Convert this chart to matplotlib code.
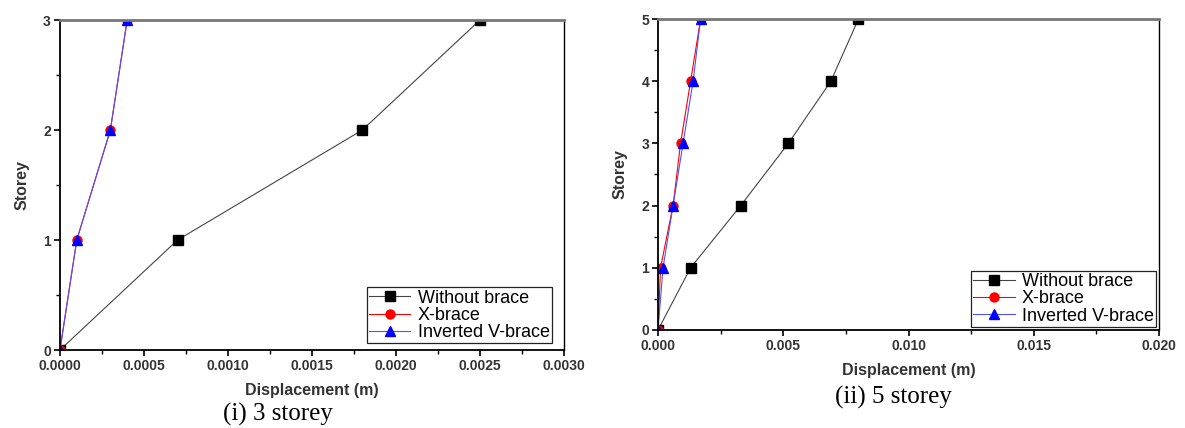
import matplotlib
matplotlib.use("Agg")
import matplotlib.pyplot as plt
from matplotlib.ticker import MultipleLocator, FormatStrFormatter

plt.rcParams['font.family'] = ['Liberation Sans', 'DejaVu Sans']

# 3 storey
storeys_3 = [0, 1, 2, 3]
without_3 = [0.0, 0.0007, 0.0018, 0.0025]
xbrace_3 = [0.0, 0.0001, 0.0003, 0.0004]
invv_3 = [0.0, 0.0001, 0.0003, 0.0004]

# 5 storey
storeys_5 = [0, 1, 2, 3, 4, 5]
without_5 = [0.0, 0.0013, 0.0033, 0.0052, 0.0069, 0.0080]
xbrace_5 = [0.0, 0.0001, 0.0006, 0.0009, 0.0013, 0.0017]
invv_5 = [0.0, 0.0002, 0.0006, 0.0010, 0.0014, 0.0017]

labels = ['Without brace', 'X-brace', 'Inverted V-brace']

fig = plt.figure(figsize=(11.85, 4.28), dpi=100)
ax1 = fig.add_axes([0.0506, 0.1822, 0.4253, 0.771])
ax2 = fig.add_axes([0.5553, 0.229, 0.4228, 0.7266])


def draw(ax, y, series, xmax, xstep, xfmt, leg_anchor):
    ax.plot(series[0], y, color='#444444', lw=0.8, marker='s', ms=6.5, mfc='black', mec='black',
            label=labels[0])
    ax.plot(series[1], y, color='red', lw=0.8, marker='o', ms=6.5, label=labels[1])
    ax.plot(series[2], y, color='#5050ff', lw=0.8, marker='^', ms=7.5, mfc='blue', mec='blue',
            label=labels[2])
    ax.set_xlim(0, xmax)
    ax.set_ylim(0, y[-1])
    ax.xaxis.set_major_locator(MultipleLocator(xstep))
    ax.xaxis.set_minor_locator(MultipleLocator(xstep / 2))
    ax.xaxis.set_major_formatter(FormatStrFormatter(xfmt))
    ax.yaxis.set_major_locator(MultipleLocator(1))
    ax.yaxis.set_minor_locator(MultipleLocator(0.5))
    ax.tick_params(which='major', direction='out', length=4.5, width=1.2, labelsize=10,
                   labelcolor='#333333', pad=2)
    ax.tick_params(which='minor', direction='out', length=3, width=1)
    for lab in ax.get_xticklabels() + ax.get_yticklabels():
        lab.set_fontweight('bold')
    for s in ax.spines.values():
        s.set_linewidth(1.3)
    ax.spines['top'].set_color('#777777')
    ax.spines['top'].set_linewidth(2)
    ax.spines['right'].set_linewidth(1)
    ax.set_xlabel('Displacement (m)', fontsize=11.5, fontweight='bold', color='#333333', labelpad=7)
    ax.set_ylabel('Storey', fontsize=11.5, fontweight='bold', color='#333333', labelpad=10)
    leg = ax.legend(loc='lower right', bbox_to_anchor=leg_anchor, fontsize=13, frameon=True,
                    fancybox=False, borderaxespad=0, handlelength=2.3, borderpad=0.12,
                    labelspacing=0.02, handletextpad=0.4, framealpha=1)
    leg.get_frame().set_edgecolor('#222222')
    leg.get_frame().set_linewidth(0.9)


draw(ax1, storeys_3, [without_3, xbrace_3, invv_3], 0.003, 0.0005, '%.4f', (0.976, 0.02))
draw(ax2, storeys_5, [without_5, xbrace_5, invv_5], 0.020, 0.005, '%.3f', (0.994, 0.01))

fig.text(0.2346, 0.032, '(i) 3 storey', fontsize=18, family='Liberation Serif', ha='center', va='center')
fig.text(0.7536, 0.072, '(ii) 5 storey', fontsize=18, family='Liberation Serif', ha='center', va='center')

fig.savefig('out.png', dpi=100)
